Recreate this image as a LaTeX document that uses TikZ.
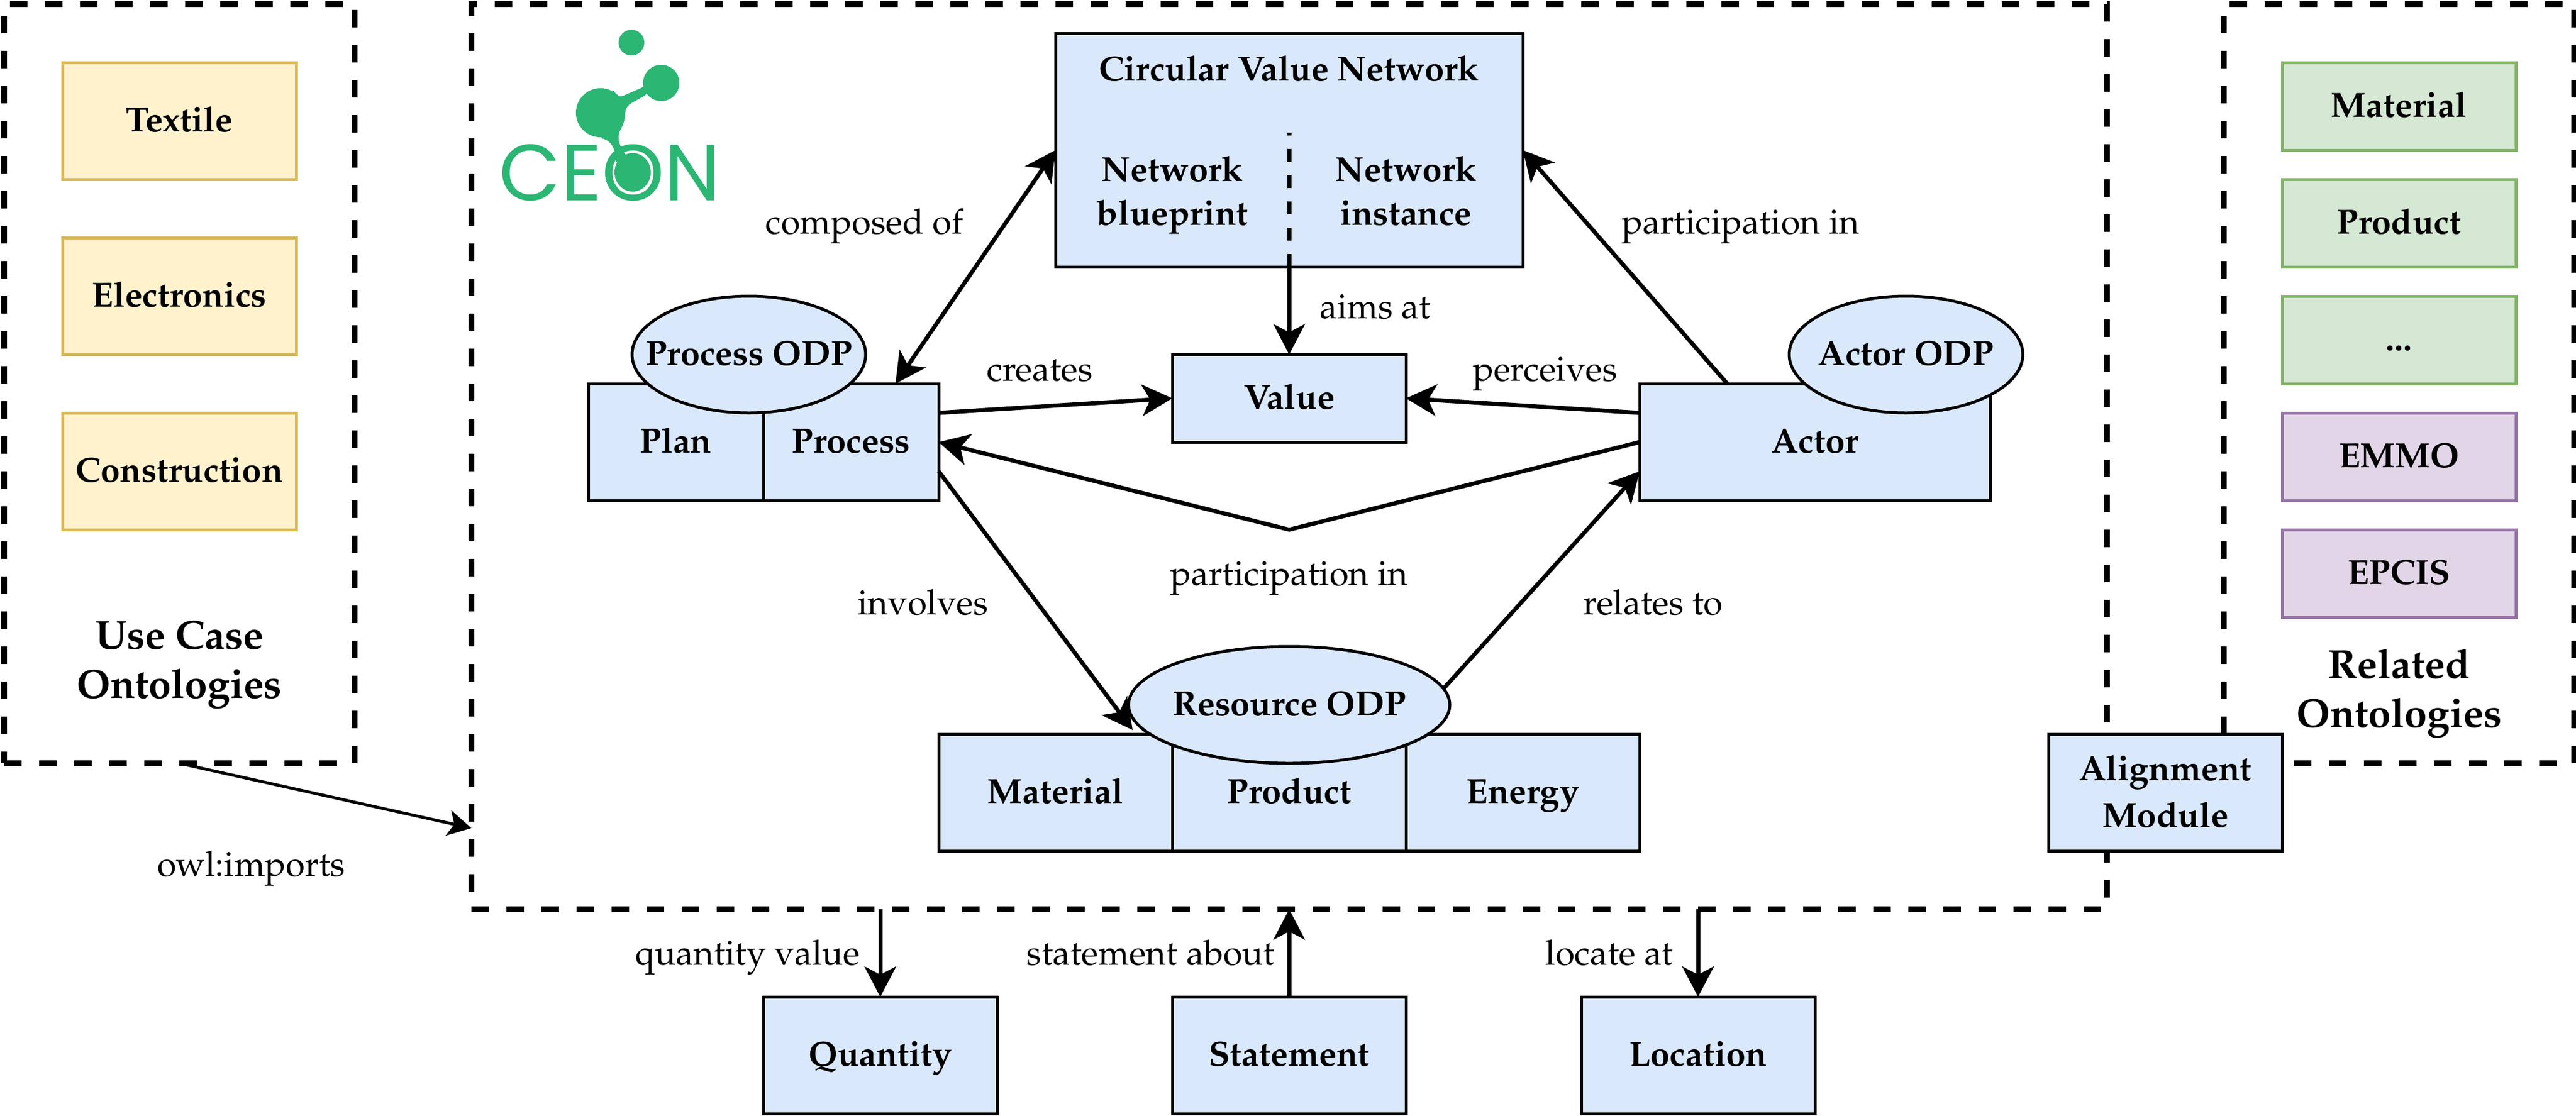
\documentclass[tikz,border=0pt]{standalone}
\usepackage{fontspec}
\newfontfamily\logofont{Poppins}
\usepackage[T1]{fontenc}
\usepackage{mathpazo}
\usetikzlibrary{shapes.geometric}
\usetikzlibrary{arrows.meta}
\definecolor{bluefill}{HTML}{DAE8FC}
\definecolor{yellowfill}{HTML}{FFF2CC}
\definecolor{yellowline}{HTML}{D6B656}
\definecolor{greenfill}{HTML}{D5E8D4}
\definecolor{greenline}{HTML}{82B366}
\definecolor{purplefill}{HTML}{E1D5E7}
\definecolor{purpleline}{HTML}{9673A6}
\definecolor{ceongreen}{HTML}{2BB673}
\tikzset{tip/.tip={Stealth[length=0.52cm, width=0.54cm, inset=0.14cm]}}
\tikzset{smalltip/.tip={Stealth[length=0.4cm, width=0.44cm, inset=0.1cm]}}
\newcommand{\odptext}[1]{\makebox[0pt]{#1}}
\newcommand{\topstrut}{\vrule width 0pt height 5.85mm depth 0pt}
\newcommand{\botstrut}{\vrule width 0pt height 0pt depth 2.25mm}

\begin{document}
\begin{tikzpicture}[
  every node/.style = {font=\fontsize{17}{21.6}\selectfont, align=center, outer sep=0pt},
  group/.style = {draw, line width=0.1cm, dash pattern=on 0.3cm off 0.3cm, anchor=north west, inner sep=0pt},
  main/.style = {draw, line width=0.05cm, fill=bluefill, font=\fontsize{17}{22.7}\selectfont\bfseries, inner sep=0pt, minimum width=4cm, minimum height=2cm, execute at begin node=\topstrut, execute at end node=\botstrut},
  netlabel/.style = {main, draw=none, fill=none, font=\fontsize{17}{21.3}\selectfont\bfseries},
  odp/.style = {main, ellipse},
  usecase/.style = {main, draw=yellowline, fill=yellowfill},
  related/.style = {main, draw=greenline, fill=greenfill, minimum height=1.5cm},
  relatedb/.style = {related, draw=purpleline, fill=purplefill},
  title/.style = {font=\fontsize{19.8}{24}\selectfont\bfseries, execute at begin node=\strut, execute at end node=\strut},
  edge/.style = {line width=0.07cm, -tip},
  edgeboth/.style = {line width=0.07cm, tip-tip},
  thinedge/.style = {line width=0.05cm, -smalltip},
  lab/.style = {inner sep=0pt, anchor=base}]
  \useasboundingbox (0,0) rectangle (44.1,-19.1);

  % dashed groups
  \node[group, minimum width=6cm, minimum height=13cm] (usegroup) at (0.07,-0.07) {};
  \node[group, minimum width=28cm, minimum height=15.5cm] (ceongroup) at (8.07,-0.07) {};
  \node[group, minimum width=6cm, minimum height=13cm] (relgroup) at (38.07,-0.07) {};

  % use case ontologies
  \node[usecase] (textile) at (3.07,-2.07) {Textile};
  \node[usecase] (electronics) at (3.07,-5.07) {Electronics};
  \node[usecase] (construction) at (3.07,-8.07) {Construction};
  \node[title] (usetitle) at (3.07,-11.42) {Use Case\\Ontologies};

  % related ontologies
  \node[related] (material2) at (41.07,-1.82) {Material};
  \node[related] (product2) at (41.07,-3.82) {Product};
  \node[related] (dots) at (41.07,-5.82) {...};
  \node[relatedb] (emmo) at (41.07,-7.82) {EMMO};
  \node[relatedb] (epcis) at (41.07,-9.82) {EPCIS};
  \node[title] (reltitle) at (41.07,-11.91) {Related\\Ontologies};

  \node[main] (align) at (37.07,-13.57) {};
  \node[netlabel, font=\fontsize{17}{22.7}\selectfont\bfseries] (aligntext) at (37.07,-13.66) {Alignment\\Module};

  % logo
  \fill[ceongreen] (10.81,-0.73) circle (0.22);
  \fill[ceongreen] (10.28,-1.93) circle (0.42);
  \fill[ceongreen] (11.32,-1.42) circle (0.31);
  \fill[ceongreen] (10.83,-2.95) ellipse (0.31 and 0.33);
  \fill[ceongreen] (10.5,-1.55) .. controls (10.58,-1.66) and (10.62,-1.66) .. (10.67,-1.64) -- (10.99,-1.5) -- (11.15,-1.4) -- (11.05,-1.63)
    -- (10.8,-1.77) .. controls (10.72,-1.82) and (10.7,-1.9) .. (10.7,-1.97)
    .. controls (10.68,-2.2) and (10.59,-2.2) .. (10.59,-2.35)
    .. controls (10.59,-2.5) and (10.68,-2.6) .. (10.8,-2.8) -- (10.55,-2.77)
    .. controls (10.54,-2.58) and (10.48,-2.4) .. (10.3,-2.37) -- (10.2,-2) -- cycle;
  \node[text=ceongreen, inner sep=0pt] (logo) at (10.44,-2.96) {\logofont\fontsize{38.8}{40}\selectfont CEON};

  % circular value network
  \node[main, minimum width=8cm, minimum height=4cm] (cvn) at (22.07,-2.57) {};
  \node[main, draw=none, fill=none, minimum height=1cm] (cvntitle) at (22.07,-1.2) {Circular Value Network};
  \node[netlabel] (blueprint) at (20.07,-3.38) {Network\\blueprint};
  \node[netlabel] (instance) at (24.07,-3.38) {Network\\instance};

  \node[main, minimum height=1.5cm] (value) at (22.07,-6.82) {Value};

  % process
  \node[main, minimum width=3cm] (plan) at (11.57,-7.57) {Plan};
  \node[main, minimum width=3cm] (process) at (14.57,-7.57) {Process};
  \node[odp] (processodp) at (12.82,-6.07) {\odptext{Process ODP}};

  % actor
  \node[main, minimum width=6cm] (actor) at (31.07,-7.57) {Actor};
  \node[odp] (actorodp) at (32.63,-6.07) {\odptext{Actor ODP}};

  % resource
  \node[main] (material) at (18.07,-13.57) {Material};
  \node[main] (product) at (22.07,-13.57) {Product};
  \node[main] (energy) at (26.07,-13.57) {Energy};
  \node[odp, minimum width=5.5cm] (resourceodp) at (22.07,-12.07) {\odptext{Resource ODP}};

  % bottom modules
  \node[main] (quantity) at (15.07,-18.07) {Quantity};
  \node[main] (statement) at (22.07,-18.07) {Statement};
  \node[main] (location) at (29.07,-18.07) {Location};

  % connectors
  \draw[line width=0.07cm, dash pattern=on 0.225cm off 0.225cm] (cvn.south) -- ([yshift=2.3cm]cvn.south);
  \draw[edge] (cvn.south) -- (value.north);
  \draw[edgeboth] ([xshift=0.76cm]process.north) -- (cvn.west);
  \draw[edge] ([yshift=0.5cm]process.east) -- (value.west);
  \draw[edge] ([yshift=0.5cm]actor.west) -- (value.east);
  \draw[edge] ([xshift=-1.5cm]actor.north) -- (cvn.east);
  \coordinate (bend) at (22.07,-9.07);
  \draw[edge] (actor.west) -- (bend) -- (process.east);
  \draw[edge] ([yshift=-0.5cm]process.east) -- ([xshift=0.07cm, yshift=-0.43cm]resourceodp.west);
  \draw[edge] (resourceodp.6) -- ([yshift=-0.5cm]actor.west);
  \draw[edge] (quantity.north |- ceongroup.south) -- (quantity.north);
  \draw[edge] (statement.north) -- (statement.north |- ceongroup.south);
  \draw[edge] (location.north |- ceongroup.south) -- (location.north);
  \draw[thinedge] ([xshift=-3cm]usegroup.south east) -- ([yshift=-6.36cm]ceongroup.west);

  % labels
  \node[lab] (l1) at (14.8,-4) {composed of};
  \node[lab] (l2) at (29.8,-4) {participation in};
  \node[lab] (l3) at (23.54,-5.45) {aims at};
  \node[lab] (l4) at (17.8,-6.52) {creates};
  \node[lab] (l5) at (26.45,-6.52) {perceives};
  \node[lab] (l6) at (15.8,-10.52) {involves};
  \node[lab] (l7) at (22.07,-10.02) {participation in};
  \node[lab] (l8) at (28.3,-10.52) {relates to};
  \node[lab] (l9) at (12.8,-16.52) {quantity value};
  \node[lab] (l10) at (19.7,-16.52) {statement about};
  \node[lab] (l11) at (27.55,-16.52) {locate at};
  \node[lab] (l12) at (4.3,-15) {owl:imports};
\end{tikzpicture}
\end{document}
